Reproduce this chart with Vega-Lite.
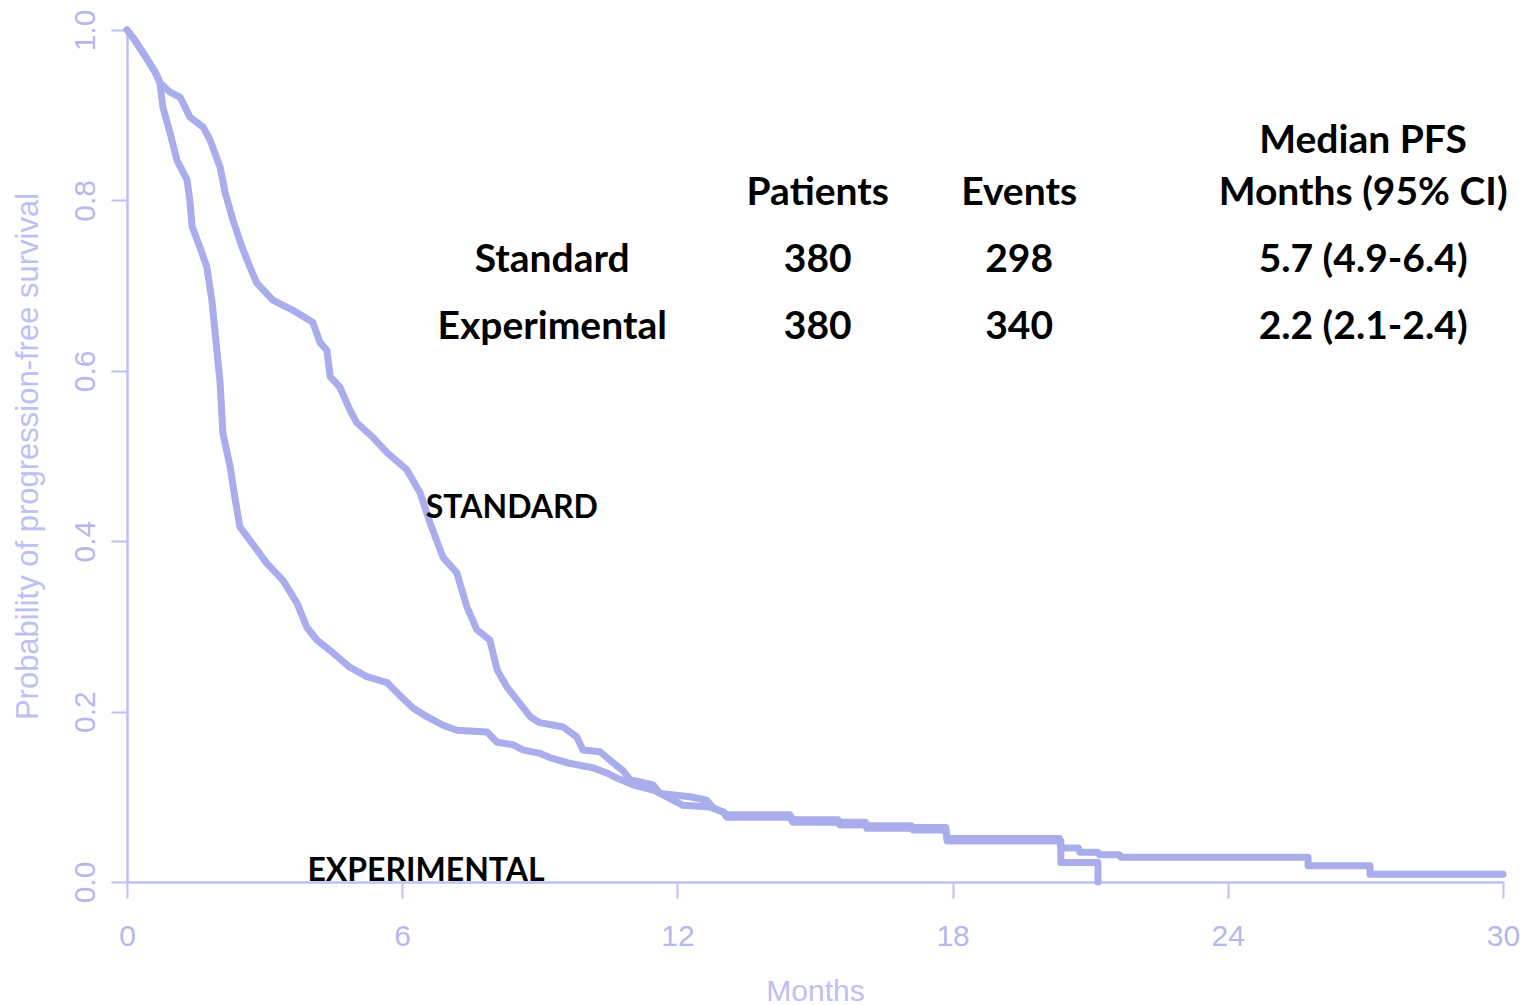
{
  "$schema": "https://vega.github.io/schema/vega-lite/v6.json",
  "autosize": {"type": "none"},
  "width": 1376,
  "height": 852,
  "padding": {"left": 127, "top": 30, "right": 29, "bottom": 123},
  "background": "white",
  "config": {"view": {"stroke": null}},
  "datasets": {
    "km": [
      {"arm": "Experimental", "i": 1, "month": 0, "surv": 1.0},
      {"arm": "Experimental", "i": 2, "month": 0.17, "surv": 0.988},
      {"arm": "Experimental", "i": 3, "month": 0.39, "surv": 0.970},
      {"arm": "Experimental", "i": 4, "month": 0.61, "surv": 0.951},
      {"arm": "Experimental", "i": 5, "month": 0.72, "surv": 0.938},
      {"arm": "Experimental", "i": 6, "month": 0.78, "surv": 0.910},
      {"arm": "Experimental", "i": 7, "month": 0.94, "surv": 0.879},
      {"arm": "Experimental", "i": 8, "month": 1.09, "surv": 0.847},
      {"arm": "Experimental", "i": 9, "month": 1.31, "surv": 0.824},
      {"arm": "Experimental", "i": 10, "month": 1.37, "surv": 0.800},
      {"arm": "Experimental", "i": 11, "month": 1.42, "surv": 0.769},
      {"arm": "Experimental", "i": 12, "month": 1.59, "surv": 0.745},
      {"arm": "Experimental", "i": 13, "month": 1.74, "surv": 0.722},
      {"arm": "Experimental", "i": 14, "month": 1.85, "surv": 0.683},
      {"arm": "Experimental", "i": 15, "month": 1.96, "surv": 0.624},
      {"arm": "Experimental", "i": 16, "month": 2.03, "surv": 0.586},
      {"arm": "Experimental", "i": 17, "month": 2.09, "surv": 0.527},
      {"arm": "Experimental", "i": 18, "month": 2.25, "surv": 0.487},
      {"arm": "Experimental", "i": 19, "month": 2.35, "surv": 0.452},
      {"arm": "Experimental", "i": 20, "month": 2.46, "surv": 0.417},
      {"arm": "Experimental", "i": 21, "month": 2.68, "surv": 0.401},
      {"arm": "Experimental", "i": 22, "month": 3.05, "surv": 0.374},
      {"arm": "Experimental", "i": 23, "month": 3.40, "surv": 0.354},
      {"arm": "Experimental", "i": 24, "month": 3.71, "surv": 0.327},
      {"arm": "Experimental", "i": 25, "month": 3.92, "surv": 0.299},
      {"arm": "Experimental", "i": 26, "month": 4.14, "surv": 0.284},
      {"arm": "Experimental", "i": 27, "month": 4.49, "surv": 0.269},
      {"arm": "Experimental", "i": 28, "month": 4.86, "surv": 0.252},
      {"arm": "Experimental", "i": 29, "month": 5.23, "surv": 0.241},
      {"arm": "Experimental", "i": 30, "month": 5.67, "surv": 0.234},
      {"arm": "Experimental", "i": 31, "month": 5.95, "surv": 0.219},
      {"arm": "Experimental", "i": 32, "month": 6.24, "surv": 0.204},
      {"arm": "Experimental", "i": 33, "month": 6.54, "surv": 0.194},
      {"arm": "Experimental", "i": 34, "month": 6.89, "surv": 0.184},
      {"arm": "Experimental", "i": 35, "month": 7.19, "surv": 0.178},
      {"arm": "Experimental", "i": 36, "month": 7.85, "surv": 0.176},
      {"arm": "Experimental", "i": 37, "month": 8.07, "surv": 0.164},
      {"arm": "Experimental", "i": 38, "month": 8.42, "surv": 0.161},
      {"arm": "Experimental", "i": 39, "month": 8.63, "surv": 0.155},
      {"arm": "Experimental", "i": 40, "month": 9.00, "surv": 0.151},
      {"arm": "Experimental", "i": 41, "month": 9.22, "surv": 0.146},
      {"arm": "Experimental", "i": 42, "month": 9.59, "surv": 0.140},
      {"arm": "Experimental", "i": 43, "month": 10.16, "surv": 0.134},
      {"arm": "Experimental", "i": 44, "month": 10.46, "surv": 0.128},
      {"arm": "Experimental", "i": 45, "month": 10.68, "surv": 0.122},
      {"arm": "Experimental", "i": 46, "month": 11.03, "surv": 0.114},
      {"arm": "Experimental", "i": 47, "month": 11.47, "surv": 0.108},
      {"arm": "Experimental", "i": 48, "month": 11.77, "surv": 0.100},
      {"arm": "Experimental", "i": 49, "month": 12.12, "surv": 0.090},
      {"arm": "Experimental", "i": 50, "month": 12.71, "surv": 0.088},
      {"arm": "Experimental", "i": 51, "month": 13.0, "surv": 0.082},
      {"arm": "Experimental", "i": 52, "month": 13.08, "surv": 0.076},
      {"arm": "Experimental", "i": 53, "month": 14.45, "surv": 0.076},
      {"arm": "Experimental", "i": 54, "month": 14.52, "surv": 0.070},
      {"arm": "Experimental", "i": 55, "month": 15.5, "surv": 0.070},
      {"arm": "Experimental", "i": 56, "month": 15.54, "surv": 0.067},
      {"arm": "Experimental", "i": 57, "month": 16.1, "surv": 0.067},
      {"arm": "Experimental", "i": 58, "month": 16.13, "surv": 0.063},
      {"arm": "Experimental", "i": 59, "month": 17.1, "surv": 0.063},
      {"arm": "Experimental", "i": 60, "month": 17.14, "surv": 0.061},
      {"arm": "Experimental", "i": 61, "month": 17.85, "surv": 0.061},
      {"arm": "Experimental", "i": 62, "month": 17.88, "surv": 0.048},
      {"arm": "Experimental", "i": 63, "month": 20.36, "surv": 0.048},
      {"arm": "Experimental", "i": 64, "month": 20.36, "surv": 0.023},
      {"arm": "Experimental", "i": 65, "month": 21.17, "surv": 0.023},
      {"arm": "Experimental", "i": 66, "month": 21.17, "surv": 0.0},

      {"arm": "Standard", "i": 1, "month": 0, "surv": 1.0},
      {"arm": "Standard", "i": 2, "month": 0.17, "surv": 0.988},
      {"arm": "Standard", "i": 3, "month": 0.39, "surv": 0.970},
      {"arm": "Standard", "i": 4, "month": 0.61, "surv": 0.951},
      {"arm": "Standard", "i": 5, "month": 0.72, "surv": 0.938},
      {"arm": "Standard", "i": 6, "month": 0.94, "surv": 0.927},
      {"arm": "Standard", "i": 7, "month": 1.16, "surv": 0.921},
      {"arm": "Standard", "i": 8, "month": 1.37, "surv": 0.898},
      {"arm": "Standard", "i": 9, "month": 1.66, "surv": 0.886},
      {"arm": "Standard", "i": 10, "month": 1.81, "surv": 0.871},
      {"arm": "Standard", "i": 11, "month": 2.03, "surv": 0.839},
      {"arm": "Standard", "i": 12, "month": 2.14, "surv": 0.809},
      {"arm": "Standard", "i": 13, "month": 2.31, "surv": 0.777},
      {"arm": "Standard", "i": 14, "month": 2.51, "surv": 0.745},
      {"arm": "Standard", "i": 15, "month": 2.68, "surv": 0.722},
      {"arm": "Standard", "i": 16, "month": 2.83, "surv": 0.703},
      {"arm": "Standard", "i": 17, "month": 3.18, "surv": 0.683},
      {"arm": "Standard", "i": 18, "month": 3.62, "surv": 0.671},
      {"arm": "Standard", "i": 19, "month": 4.05, "surv": 0.657},
      {"arm": "Standard", "i": 20, "month": 4.21, "surv": 0.633},
      {"arm": "Standard", "i": 21, "month": 4.36, "surv": 0.624},
      {"arm": "Standard", "i": 22, "month": 4.43, "surv": 0.593},
      {"arm": "Standard", "i": 23, "month": 4.64, "surv": 0.581},
      {"arm": "Standard", "i": 24, "month": 4.86, "surv": 0.554},
      {"arm": "Standard", "i": 25, "month": 5.01, "surv": 0.539},
      {"arm": "Standard", "i": 26, "month": 5.36, "surv": 0.522},
      {"arm": "Standard", "i": 27, "month": 5.67, "surv": 0.504},
      {"arm": "Standard", "i": 28, "month": 6.10, "surv": 0.484},
      {"arm": "Standard", "i": 29, "month": 6.39, "surv": 0.457},
      {"arm": "Standard", "i": 30, "month": 6.61, "surv": 0.421},
      {"arm": "Standard", "i": 31, "month": 6.89, "surv": 0.381},
      {"arm": "Standard", "i": 32, "month": 7.19, "surv": 0.363},
      {"arm": "Standard", "i": 33, "month": 7.41, "surv": 0.323},
      {"arm": "Standard", "i": 34, "month": 7.63, "surv": 0.296},
      {"arm": "Standard", "i": 35, "month": 7.91, "surv": 0.284},
      {"arm": "Standard", "i": 36, "month": 8.07, "surv": 0.249},
      {"arm": "Standard", "i": 37, "month": 8.28, "surv": 0.229},
      {"arm": "Standard", "i": 38, "month": 8.50, "surv": 0.214},
      {"arm": "Standard", "i": 39, "month": 8.79, "surv": 0.194},
      {"arm": "Standard", "i": 40, "month": 9.00, "surv": 0.187},
      {"arm": "Standard", "i": 41, "month": 9.51, "surv": 0.182},
      {"arm": "Standard", "i": 42, "month": 9.81, "surv": 0.170},
      {"arm": "Standard", "i": 43, "month": 9.94, "surv": 0.155},
      {"arm": "Standard", "i": 44, "month": 10.31, "surv": 0.153},
      {"arm": "Standard", "i": 45, "month": 10.53, "surv": 0.143},
      {"arm": "Standard", "i": 46, "month": 10.81, "surv": 0.131},
      {"arm": "Standard", "i": 47, "month": 10.97, "surv": 0.120},
      {"arm": "Standard", "i": 48, "month": 11.47, "surv": 0.114},
      {"arm": "Standard", "i": 49, "month": 11.62, "surv": 0.104},
      {"arm": "Standard", "i": 50, "month": 12.27, "surv": 0.100},
      {"arm": "Standard", "i": 51, "month": 12.64, "surv": 0.096},
      {"arm": "Standard", "i": 52, "month": 12.78, "surv": 0.087},
      {"arm": "Standard", "i": 53, "month": 13.0, "surv": 0.082},
      {"arm": "Standard", "i": 54, "month": 13.08, "surv": 0.079},
      {"arm": "Standard", "i": 55, "month": 14.45, "surv": 0.079},
      {"arm": "Standard", "i": 56, "month": 14.52, "surv": 0.073},
      {"arm": "Standard", "i": 57, "month": 15.5, "surv": 0.073},
      {"arm": "Standard", "i": 58, "month": 15.54, "surv": 0.070},
      {"arm": "Standard", "i": 59, "month": 16.1, "surv": 0.070},
      {"arm": "Standard", "i": 60, "month": 16.13, "surv": 0.066},
      {"arm": "Standard", "i": 61, "month": 17.1, "surv": 0.066},
      {"arm": "Standard", "i": 62, "month": 17.14, "surv": 0.064},
      {"arm": "Standard", "i": 63, "month": 17.85, "surv": 0.064},
      {"arm": "Standard", "i": 64, "month": 17.88, "surv": 0.051},
      {"arm": "Standard", "i": 65, "month": 20.33, "surv": 0.051},
      {"arm": "Standard", "i": 66, "month": 20.36, "surv": 0.040},
      {"arm": "Standard", "i": 67, "month": 20.74, "surv": 0.040},
      {"arm": "Standard", "i": 68, "month": 20.77, "surv": 0.035},
      {"arm": "Standard", "i": 69, "month": 21.17, "surv": 0.035},
      {"arm": "Standard", "i": 70, "month": 21.2, "surv": 0.032},
      {"arm": "Standard", "i": 71, "month": 21.64, "surv": 0.032},
      {"arm": "Standard", "i": 72, "month": 21.67, "surv": 0.029},
      {"arm": "Standard", "i": 73, "month": 25.75, "surv": 0.029},
      {"arm": "Standard", "i": 74, "month": 25.75, "surv": 0.019},
      {"arm": "Standard", "i": 75, "month": 27.1, "surv": 0.019},
      {"arm": "Standard", "i": 76, "month": 27.1, "surv": 0.009},
      {"arm": "Standard", "i": 77, "month": 30.0, "surv": 0.009}
    ],
    "table": [
      {"label": "Median PFS", "month": 26.95, "surv": 0.856},
      {"label": "Months (95% CI)", "month": 26.95, "surv": 0.795},
      {"label": "Patients", "month": 15.06, "surv": 0.795},
      {"label": "Events", "month": 19.45, "surv": 0.795},
      {"label": "Standard", "month": 9.27, "surv": 0.716},
      {"label": "380", "month": 15.06, "surv": 0.716},
      {"label": "298", "month": 19.45, "surv": 0.716},
      {"label": "5.7 (4.9-6.4)", "month": 26.95, "surv": 0.716},
      {"label": "Experimental", "month": 9.27, "surv": 0.637},
      {"label": "380", "month": 15.06, "surv": 0.637},
      {"label": "340", "month": 19.45, "surv": 0.637},
      {"label": "2.2 (2.1-2.4)", "month": 26.95, "surv": 0.637}
    ],
    "armLabels": [
      {"label": "STANDARD", "month": 8.39, "surv": 0.427},
      {"label": "EXPERIMENTAL", "month": 6.52, "surv": 0.001}
    ]
  },
  "layer": [
    {
      "data": {"name": "km"},
      "mark": {
        "type": "line",
        "interpolate": "linear",
        "color": "#a9adec",
        "strokeWidth": 7,
        "strokeCap": "round",
        "strokeJoin": "round"
      },
      "encoding": {
        "x": {
          "field": "month",
          "type": "quantitative",
          "scale": {"domain": [0, 30], "nice": false, "zero": false},
          "axis": {
            "values": [0, 6, 12, 18, 24, 30],
            "title": "Months",
            "grid": false,
            "domainColor": "#bcc0f3",
            "domainWidth": 2.5,
            "tickColor": "#bcc0f3",
            "tickWidth": 2,
            "tickSize": 16,
            "labelFont": "Liberation Sans",
            "labelFontSize": 30,
            "labelColor": "#b4b8ef",
            "labelBaseline": "alphabetic",
            "labelPadding": 47,
            "labelFlush": false,
            "labelOverlap": false,
            "titleFont": "Liberation Sans",
            "titleFontSize": 30,
            "titleFontWeight": "normal",
            "titleColor": "#bcc0f3",
            "titleBaseline": "alphabetic",
            "titleAlign": "center",
            "titleX": 688,
            "titleY": 118
          }
        },
        "y": {
          "field": "surv",
          "type": "quantitative",
          "scale": {"domain": [0, 1], "nice": false},
          "axis": {
            "values": [0, 0.2, 0.4, 0.6, 0.8, 1.0],
            "format": ".1f",
            "title": "Probability of progression-free survival",
            "grid": false,
            "domainColor": "#bcc0f3",
            "domainWidth": 2.5,
            "tickColor": "#bcc0f3",
            "tickWidth": 2,
            "tickSize": 16,
            "labelFont": "Liberation Sans",
            "labelFontSize": 30,
            "labelColor": "#b4b8ef",
            "labelAngle": 270,
            "labelAlign": "center",
            "labelBaseline": "alphabetic",
            "labelPadding": 17,
            "labelFlush": false,
            "labelOverlap": false,
            "titleFont": "Liberation Sans",
            "titleFontSize": 31,
            "titleFontWeight": "normal",
            "titleColor": "#bcc0f3",
            "titleAngle": 270,
            "titleAlign": "center",
            "titleBaseline": "alphabetic",
            "titleX": -90,
            "titleY": 426
          }
        },
        "detail": {"field": "arm"},
        "order": {"field": "i", "type": "quantitative"}
      }
    },
    {
      "data": {"name": "table"},
      "mark": {
        "type": "text",
        "font": "Lato",
        "fontWeight": "bold",
        "fontSize": 39,
        "color": "black",
        "align": "center",
        "baseline": "alphabetic"
      },
      "encoding": {
        "x": {"field": "month", "type": "quantitative"},
        "y": {"field": "surv", "type": "quantitative"},
        "text": {"field": "label"}
      }
    },
    {
      "data": {"name": "armLabels"},
      "mark": {
        "type": "text",
        "font": "Lato",
        "fontWeight": "bold",
        "fontSize": 32,
        "color": "black",
        "align": "center",
        "baseline": "alphabetic"
      },
      "encoding": {
        "x": {"field": "month", "type": "quantitative"},
        "y": {"field": "surv", "type": "quantitative"},
        "text": {"field": "label"}
      }
    }
  ]
}
